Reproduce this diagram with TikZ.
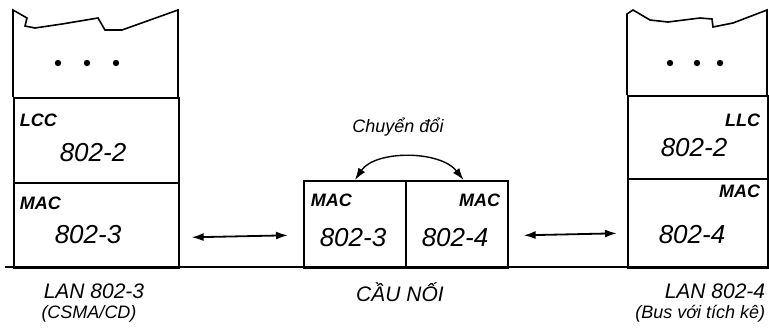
\documentclass[tikz,border=0pt]{standalone}
\usepackage{fontspec}
\setmainfont{Liberation Sans}
\usetikzlibrary{arrows.meta}

\begin{document}
\begin{tikzpicture}[
  x=1pt, y=-1pt, line width=1.6pt,
  layer/.style={rectangle, draw, line width=1.6pt, inner sep=0pt},
  tag/.style={font=\fontsize{18}{20}\selectfont\itshape\bfseries, inner sep=0pt},
  num/.style={font=\fontsize{26}{28}\selectfont\itshape, inner sep=0pt},
  caption/.style={font=\fontsize{21}{23}\selectfont\itshape, inner sep=0pt},
  note/.style={font=\fontsize{18}{20}\selectfont\itshape, inner sep=0pt},
  link/.style={{Latex[length=12pt,width=8pt]}-{Latex[length=12pt,width=8pt]}, line width=1.8pt}
]
\useasboundingbox (0,0) rectangle (769,333);

% left station: LAN 802-3
\draw (13,97) -- (13,10) -- (27,18) -- (25,26) -- (35,28) -- (62,24) -- (98,18)
  -- (105,30) -- (122,30) -- (178,10) -- (178,97);
\node[layer, anchor=north west, minimum width=165pt, minimum height=85pt] (llcL) at (13,97) {};
\node[layer, anchor=north west, minimum width=165pt, minimum height=85pt] (macL) at (13,182) {};
\foreach \x in {58,87,116} \fill (\x,63) circle (3.2pt);
\node[tag, anchor=west] at (19,120) {LCC};
\node[num] at (93,153) {802-2};
\node[tag, anchor=west] at (19,203) {MAC};
\node[num] at (88,235) {802-3};
\node[caption] (lanL) at (94,291) {LAN 802-3};
\node[note] (csma) at (89,314) {(CSMA/CD)};

% bridge
\node[layer, anchor=north west, minimum width=102pt, minimum height=87pt] (brA) at (303,180) {};
\node[layer, anchor=north west, minimum width=102pt, minimum height=87pt] (brB) at (405,180) {};
\node[tag, anchor=west] at (310,200) {MAC};
\node[tag, anchor=east] at (501,200) {MAC};
\node[num] at (353,238) {802-3};
\node[num] at (455,238) {802-4};
\node[caption] (bridge) at (400,292) {CẦU NỐI};
\node[note] (conv) at (398,127) {Chuyển đổi};
\draw[link, line width=1.4pt] ([xshift=52pt]brA.north west) .. controls (375,150) and (440,150) .. ([xshift=-45pt]brB.north east);

% right station: LAN 802-4
\draw (627,95) -- (627,14) -- (633,10) -- (650,20) -- (668,22) -- (700,18)
  -- (712,19) -- (713,27) -- (733,23) -- (767,10) -- (767,95);
\node[layer, anchor=north west, minimum width=140pt, minimum height=83pt] (llcR) at (627,95) {};
\node[layer, anchor=north west, minimum width=140pt, minimum height=89pt] (macR) at (627,178) {};
\foreach \x in {670,697,720} \fill (\x,63) circle (3.2pt);
\node[tag, anchor=east] at (761,120) {LLC};
\node[num] at (694,148) {802-2};
\node[tag, anchor=east] at (761,191) {MAC};
\node[num] at (692,235) {802-4};
\node[caption, anchor=east] (lanR) at (766,291) {LAN 802-4};
\node[note, anchor=east] (bus) at (766,314) {(Bus với tích kê)};

% common base line and links
\draw (5,267) -- (769,267);
\draw[link] ([xshift=12pt,yshift=-12pt]macL.east) -- ([xshift=-15pt,yshift=-11pt]brA.west);
\draw[link] ([xshift=15pt,yshift=-11pt]brB.east) -- ([xshift=-10pt,yshift=-10pt]macR.west);
\end{tikzpicture}
\end{document}
